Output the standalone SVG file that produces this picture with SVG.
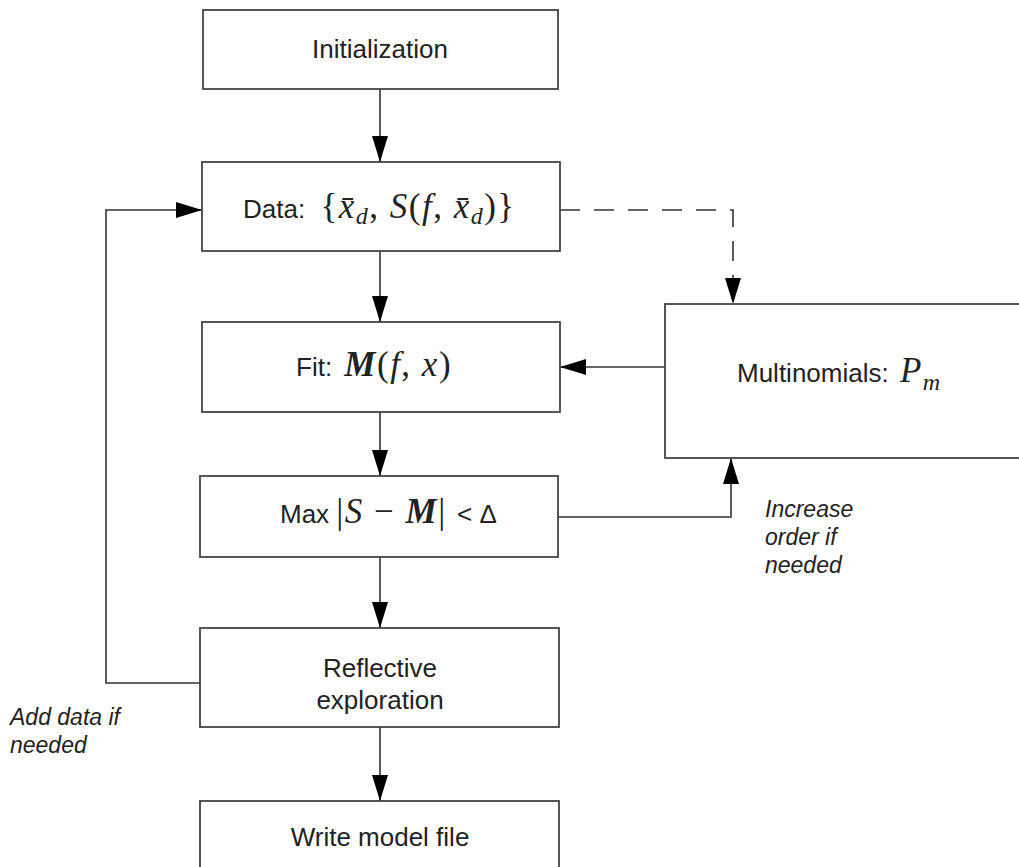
<svg xmlns="http://www.w3.org/2000/svg" width="1019" height="867" viewBox="0 0 1019 867">
<style>
.box{fill:#fff;stroke:#444;stroke-width:1.8}
.ln{fill:none;stroke:#333;stroke-width:1.6}
.dash{stroke-dasharray:20 14}
.t{font-family:"Liberation Sans",Arial,sans-serif;font-size:26px;fill:#222}
.c{text-anchor:middle}
.m{font-family:"Liberation Serif","Times New Roman",serif;font-style:italic;font-size:35px;letter-spacing:1.5px}
.r{font-family:"Liberation Serif","Times New Roman",serif;font-style:normal;font-size:35px;letter-spacing:1.5px}
.sub{font-size:24px}
.lab{font-family:"Liberation Sans",Arial,sans-serif;font-style:italic;font-size:23px;fill:#222}
</style>
<defs>
<marker id="ah" markerUnits="userSpaceOnUse" markerWidth="26" markerHeight="16" viewBox="0 0 26 16" refX="26" refY="8" orient="auto">
<path d="M0,0 L26,8 L0,16 z" fill="#000"/>
</marker>
</defs>
<g id="connectors">
<line class="ln" x1="380" y1="89" x2="380" y2="162" marker-end="url(#ah)"/>
<line class="ln" x1="380" y1="251" x2="380" y2="322" marker-end="url(#ah)"/>
<line class="ln" x1="380" y1="412" x2="380" y2="476" marker-end="url(#ah)"/>
<line class="ln" x1="380" y1="557" x2="380" y2="628" marker-end="url(#ah)"/>
<line class="ln" x1="380" y1="727" x2="380" y2="801" marker-end="url(#ah)"/>
<polyline class="ln" points="202,683 106,683 106,210 202,210" marker-end="url(#ah)"/>
<polyline class="ln dash" points="560,210 733,210 733,304" marker-end="url(#ah)"/>
<line class="ln" x1="665" y1="367" x2="560" y2="367" marker-end="url(#ah)"/>
<polyline class="ln" points="558,517 731,517 731,458" marker-end="url(#ah)"/>
</g>
<g id="init">
<rect class="box" x="203" y="10" width="355" height="79"/>
<text class="t c" x="380" y="58">Initialization</text>
</g>
<g id="data">
<rect class="box" x="202" y="162" width="358" height="89"/>
<text class="t" x="243" y="218">Data: <tspan class="r" dx="8">{</tspan><tspan class="m">x̄</tspan><tspan class="m sub" dy="6">d</tspan><tspan class="r" dy="-6">, </tspan><tspan class="m">S</tspan><tspan class="r">(</tspan><tspan class="m">f</tspan><tspan class="r">, </tspan><tspan class="m">x̄</tspan><tspan class="m sub" dy="6">d</tspan><tspan class="r" dy="-6">)}</tspan></text>
</g>
<g id="fit">
<rect class="box" x="202" y="322" width="358" height="90"/>
<text class="t" x="296" y="376">Fit: <tspan class="m" dx="5" font-weight="bold">M</tspan><tspan class="r">(</tspan><tspan class="m">f</tspan><tspan class="r">, </tspan><tspan class="m">x</tspan><tspan class="r">)</tspan></text>
</g>
<g id="multinomials">
<rect class="box" x="665" y="304" width="400" height="154"/>
<text class="t" x="737" y="382">Multinomials: <tspan class="m" font-size="36" dx="4">P</tspan><tspan class="m sub" dy="8">m</tspan></text>
</g>
<g id="max">
<rect class="box" x="200" y="476" width="358" height="81"/>
<text class="t" x="280" y="523">Max <tspan class="r">|</tspan><tspan class="m">S</tspan><tspan class="r"> − </tspan><tspan class="m" font-weight="bold">M</tspan><tspan class="r">| </tspan>&lt; Δ</text>
</g>
<g id="reflective">
<rect class="box" x="200" y="628" width="359" height="99"/>
<text class="t c" x="380" y="677">Reflective</text>
<text class="t c" x="380" y="709">exploration</text>
</g>
<g id="write">
<rect class="box" x="200" y="801" width="359" height="90"/>
<text class="t c" x="380" y="846">Write model file</text>
</g>
<g id="labels">
<text class="lab" x="765" y="517">Increase</text>
<text class="lab" x="765" y="545">order if</text>
<text class="lab" x="765" y="573">needed</text>
<text class="lab" x="10" y="725">Add data if</text>
<text class="lab" x="10" y="753">needed</text>
</g>
</svg>
